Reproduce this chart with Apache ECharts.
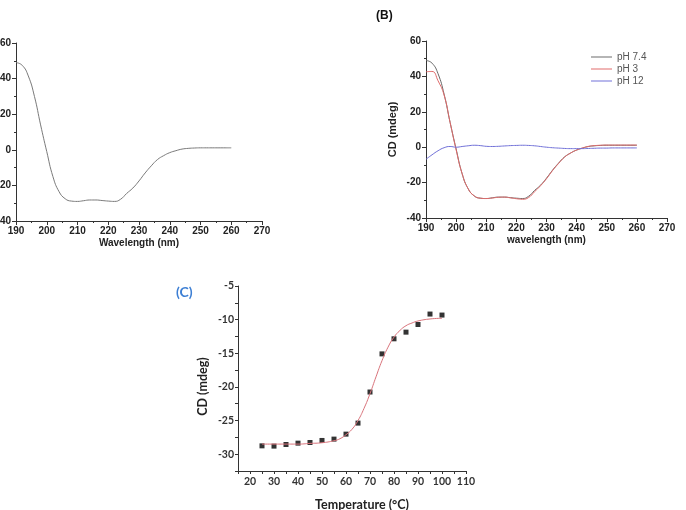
<!DOCTYPE html>
<html>
<head>
<meta charset="utf-8">
<script src="https://cdn.jsdelivr.net/npm/echarts@6/dist/echarts.min.js"></script>
<style>
  html, body { margin: 0; padding: 0; background: #fff; }
  #main { width: 686px; height: 510px; }
</style>
</head>
<body>
<div id="main"></div>
<script>
// wavelength scan (nm), every 2 nm
var wavelengths = [190, 192, 194, 196, 198, 200, 202, 204, 206, 208, 210, 212, 214, 216, 218, 220, 222, 224,
  226, 228, 230, 232, 234, 236, 238, 240, 242, 244, 246, 248, 250, 252, 254, 256, 258, 260];
// CD (mdeg) pH 7.4
var cdPH74 = [49, 47.5, 41.5, 30, 14, -1, -15, -23.5, -27.5, -28.8, -29, -28.6, -28.2, -28.2, -28.5, -28.8, -29, -27.8,
  -24.5, -21.5, -17.5, -13, -9, -5.5, -3.3, -1.6, -0.5, 0.4, 0.8, 1, 1.1, 1.1, 1.1, 1.1, 1.1, 1.1];
// pH 3
var cdPH3 = [42.6, 42.8, 37.5, 29.5, 14, -1.5, -15, -23.5, -27.5, -28.8, -29, -28.7, -28.3, -28.2, -28.6, -29.1, -29.4, -28.5,
  -25.2, -21.8, -17.8, -13.2, -9.2, -5.6, -3.3, -1.6, -0.4, 0.5, 0.9, 1.1, 1.2, 1.2, 1.2, 1.2, 1.2, 1.2];
// pH 12
var cdPH12 = [-6.8, -4.3, -2, -0.3, 0.4, 0, 0.4, 0.8, 1.1, 0.9, 0.5, 0.4, 0.5, 0.7, 0.9, 1, 1.1, 1,
  0.8, 0.4, 0, -0.3, -0.5, -0.7, -0.8, -0.8, -0.8, -0.7, -0.6, -0.5, -0.5, -0.4, -0.4, -0.4, -0.4, -0.4];

// thermal melt (C)
var temps = [25, 30, 35, 40, 45, 50, 55, 60, 65, 70, 75, 80, 85, 90, 95, 100];
var cdTemp = [-28.76, -28.8, -28.56, -28.36, -28.26, -27.96, -27.76, -27.02, -25.38, -20.76, -15.09, -12.85, -11.86, -10.72, -9.17, -9.32];
var fitTemps = [25, 30, 35, 40, 45, 50, 55, 57.5, 60, 62.5, 65, 67.5, 70, 72.5, 75, 77.5, 80, 82.5, 85, 87.5, 90, 95, 100];
var fitCD = [-28.5, -28.5, -28.5, -28.5, -28.4, -28.3, -28.0, -27.7, -27.1, -26.3, -25.0, -23.2, -21.0, -18.5, -16.1, -14.1, -12.6, -11.6, -10.9, -10.5, -10.2, -9.9, -9.8];

var pairs = function (xs, ys) {
  return xs.map(function (x, i) { return [x, ys[i]]; });
};

var arialLabel = { fontFamily: 'Liberation Sans', fontWeight: 'bold', fontSize: 10, color: '#222' };
var latoLabel = { fontFamily: 'Lato', fontWeight: 'bold', fontSize: 10.5, color: '#333' };
var axisLine = { show: true, onZero: false, lineStyle: { color: '#333', width: 1 } };

function wlAxis(grid, name) {
  return {
    type: 'value', gridIndex: grid, min: 190, max: 270, interval: 10,
    name: name, nameLocation: 'middle', nameGap: 17,
    nameTextStyle: { fontFamily: 'Liberation Sans', fontWeight: 'bold', fontSize: 10, color: '#222' },
    axisLine: axisLine,
    axisTick: { show: true, length: 4, lineStyle: { color: '#333' } },
    minorTick: { show: true, splitNumber: 2, length: 2, lineStyle: { color: '#333' } },
    axisLabel: Object.assign({ margin: 5 }, arialLabel),
    splitLine: { show: false }
  };
}

function cdAxis(grid, name) {
  return {
    type: 'value', gridIndex: grid, min: -40, max: 60, interval: 20,
    name: name, nameLocation: 'middle', nameGap: 28,
    nameTextStyle: { fontFamily: 'Liberation Sans', fontWeight: 'bold', fontSize: 11, color: '#222' },
    axisLine: axisLine,
    axisTick: { show: true, length: 4, lineStyle: { color: '#333' } },
    minorTick: { show: true, splitNumber: 2, length: 2, lineStyle: { color: '#333' } },
    axisLabel: Object.assign({ margin: 5 }, arialLabel),
    splitLine: { show: false }
  };
}

var chart = echarts.init(document.getElementById('main'));

chart.setOption({
  backgroundColor: '#fff',
  animation: false,
  grid: [
    { left: 16, top: 43, width: 246, height: 178, outerBoundsMode: 'none' },
    { left: 426, top: 41, width: 241, height: 177, outerBoundsMode: 'none' },
    { left: 238, top: 286, width: 228, height: 185, outerBoundsMode: 'none' }
  ],
  legend: {
    data: ['pH 7.4', 'pH 3', 'pH 12'],
    orient: 'vertical', left: 586, top: 47,
    icon: 'rect', itemWidth: 21, itemHeight: 1, itemGap: 2,
    textStyle: { fontFamily: 'Liberation Sans', fontSize: 10, color: '#555' }
  },
  graphic: [
    { type: 'text', left: 376, top: 10, style: { text: '(B)', font: 'bold 12px "Liberation Sans"', fill: '#111' } },
    { type: 'text', left: 176, top: 285, style: { text: '(C)', font: 'bold 14px Lato', fill: '#3d7fd4' } }
  ],
  xAxis: [
    wlAxis(0, 'Wavelength (nm)'),
    wlAxis(1, 'wavelength (nm)'),
    {
      type: 'value', gridIndex: 2, min: 15, max: 110, interval: 5,
      name: 'Temperature (°C)', nameLocation: 'middle', nameGap: 27,
      nameTextStyle: { fontFamily: 'Lato', fontWeight: 'bold', fontSize: 12.5, color: '#222', padding: [0, 0, 0, 20] },
      axisLine: axisLine,
      axisTick: { show: true, length: 3, lineStyle: { color: '#333' } },
      axisLabel: Object.assign({
        margin: 5,
        formatter: function (v) { return v % 10 === 0 ? String(v) : ''; }
      }, latoLabel),
      splitLine: { show: false }
    }
  ],
  yAxis: [
    cdAxis(0, ''),
    cdAxis(1, 'CD (mdeg)'),
    {
      type: 'value', gridIndex: 2, min: -32.5, max: -5, interval: 2.5,
      name: 'CD (mdeg)', nameLocation: 'middle', nameGap: 29,
      nameTextStyle: { fontFamily: 'Lato', fontWeight: 'bold', fontSize: 12.5, color: '#222', padding: [0, 16, 0, 0] },
      axisLine: axisLine,
      axisTick: { show: true, length: 3, lineStyle: { color: '#333' } },
      axisLabel: Object.assign({
        margin: 4,
        formatter: function (v) { return v % 5 === 0 ? String(v) : ''; }
      }, latoLabel),
      splitLine: { show: false }
    }
  ],
  series: [
    {
      name: 'A', type: 'line', xAxisIndex: 0, yAxisIndex: 0, smooth: true, symbol: 'none',
      lineStyle: { color: '#7a7a7a', width: 1 }, data: pairs(wavelengths, cdPH74)
    },
    {
      name: 'pH 7.4', type: 'line', xAxisIndex: 1, yAxisIndex: 1, smooth: true, symbol: 'none',
      itemStyle: { color: '#6a6a6a' }, lineStyle: { color: '#6a6a6a', width: 1 }, data: pairs(wavelengths, cdPH74)
    },
    {
      name: 'pH 3', type: 'line', xAxisIndex: 1, yAxisIndex: 1, smooth: true, symbol: 'none',
      itemStyle: { color: '#e06a6a' }, lineStyle: { color: '#e06a6a', width: 1 }, data: pairs(wavelengths, cdPH3)
    },
    {
      name: 'pH 12', type: 'line', xAxisIndex: 1, yAxisIndex: 1, smooth: true, symbol: 'none',
      itemStyle: { color: '#7070d8' }, lineStyle: { color: '#7070d8', width: 1 }, data: pairs(wavelengths, cdPH12)
    },
    {
      name: 'fit', type: 'line', xAxisIndex: 2, yAxisIndex: 2, smooth: true, symbol: 'none',
      lineStyle: { color: '#d9737b', width: 1 }, data: pairs(fitTemps, fitCD)
    },
    {
      name: 'data', type: 'scatter', xAxisIndex: 2, yAxisIndex: 2, symbol: 'rect', symbolSize: 5,
      itemStyle: { color: '#000' }, data: pairs(temps, cdTemp)
    }
  ]
});
</script>
</body>
</html>
